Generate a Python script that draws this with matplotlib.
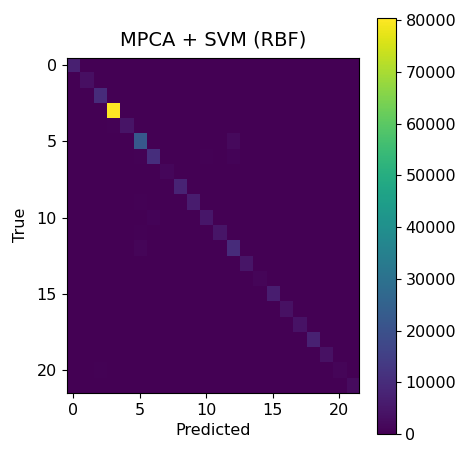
import numpy as np
import matplotlib
matplotlib.use("Agg")
import matplotlib.pyplot as plt

n_classes = 22
diag_values = [7000, 3200, 9800, 80400, 4200, 22000, 10500, 1500, 8000, 6000,
               5000, 4500, 10000, 4500, 1200, 6500, 3500, 4000, 7500, 3500,
               1000, 2400]
# a few visible off-diagonal confusions: (true, predicted, count)
off_diag = [(5, 12, 2000), (6, 12, 800), (6, 10, 600), (10, 6, 900),
            (12, 5, 1100), (20, 2, 500), (11, 5, 500), (9, 5, 400),
            (4, 3, 500), (6, 5, 400)]

cm = np.zeros((n_classes, n_classes), dtype=int)
cm += 100
for i, v in enumerate(diag_values):
    cm[i, i] = v
for t, p, v in off_diag:
    cm[t, p] = v
cm[0, 21] = 0

plt.rcParams['font.size'] = 11.5
fig = plt.figure(figsize=(4.62, 4.49), dpi=100)
ax = fig.add_axes([0.1444, 0.1247, 0.6333, 0.7472])
cax = fig.add_axes([0.8154, 0.0334, 0.0411, 0.9258])

im = ax.imshow(cm, cmap='viridis', aspect='auto', interpolation='nearest',
               vmin=0)
ax.set_title("MPCA + SVM (RBF)", fontsize=14, pad=9)
ax.set_xlabel("Predicted")
ax.set_ylabel("True", labelpad=6)
ax.set_xticks([0, 5, 10, 15, 20])
ax.set_yticks([0, 5, 10, 15, 20])

cb = fig.colorbar(im, cax=cax)
cb.set_ticks(range(0, 80001, 10000))

fig.savefig("out.png", dpi=100)
